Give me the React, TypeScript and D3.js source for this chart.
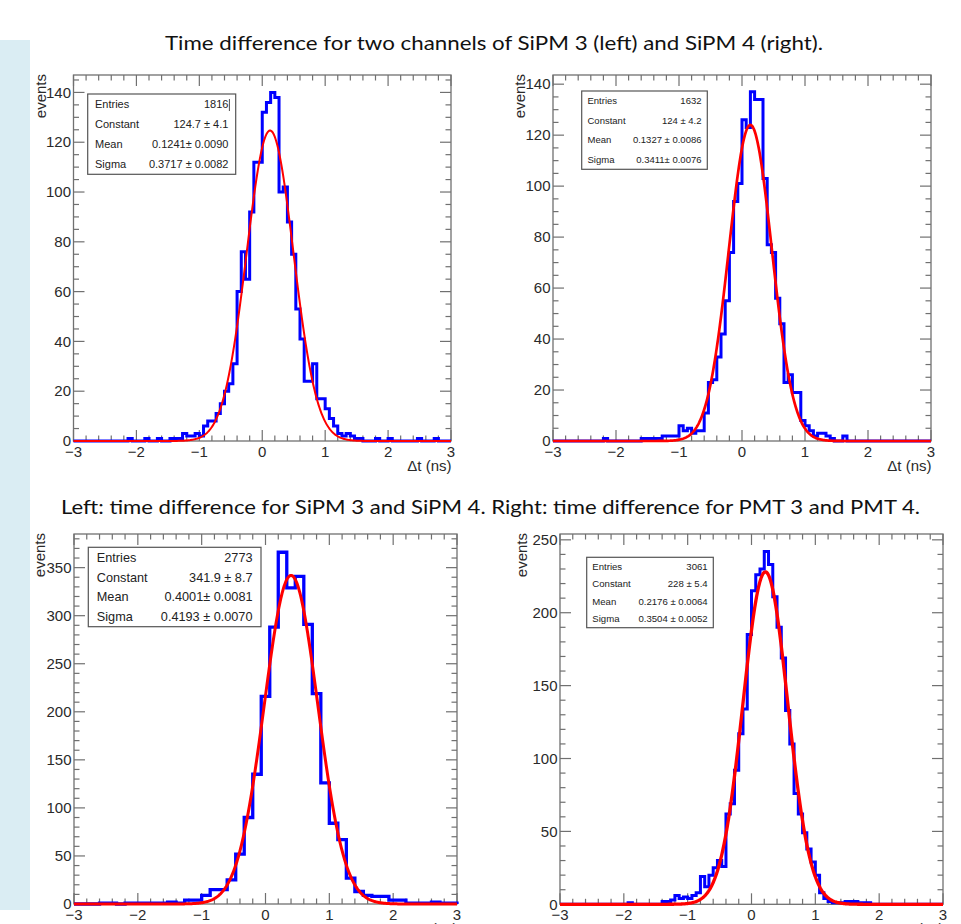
import React from "react";
import * as d3 from "d3";

// bin contents, x range -3..3 ns
const sipm3Counts = [
  0, 0, 0, 0, 0, 0, 0, 0, 0, 0,
  0, 0, 0, 1, 0, 0, 0, 1, 0, 0,
  1, 0, 0, 1, 1, 1, 3, 2, 2, 3,
  2, 6, 8, 8, 11, 15, 20, 23, 31, 60,
  76, 65, 92, 112, 112, 132, 136, 140, 138, 100,
  102, 88, 75, 53, 41, 24, 24, 31, 17, 17,
  13, 9, 6, 3, 2, 3, 2, 1, 1, 0,
  0, 0, 1, 0, 0, 1, 0, 0, 0, 0,
  0, 0, 1, 0, 0, 0, 1, 0, 0, 0,
];
const sipm4Counts = [
  0, 0, 0, 0, 0, 0, 0, 0, 0, 0,
  0, 0, 1, 0, 0, 0, 0, 0, 0, 0,
  0, 1, 1, 1, 1, 1, 2, 2, 2, 2,
  6, 4, 5, 3, 4, 4, 11, 23, 24, 33,
  42, 55, 74, 94, 101, 126, 123, 137, 134, 134,
  103, 77, 74, 56, 46, 23, 26, 19, 19, 8,
  6, 4, 2, 3, 3, 2, 1, 0, 0, 2,
  0, 0, 0, 0, 0, 0, 0, 0, 0, 0,
  0, 0, 0, 0, 0, 0, 0, 0, 0, 0,
];
const sipm34Counts = [
  0, 0, 0, 1, 1, 0, 1, 1, 1, 1,
  1, 2, 1, 4, 4, 9, 15, 15, 25, 52,
  90, 135, 216, 288, 366, 329, 341, 291, 219, 126,
  84, 67, 27, 13, 9, 8, 8, 4, 4, 1,
  1, 1, 2, 1, 1,
];
const pmt34Counts = [
  0, 0, 0, 0, 0, 0, 0, 0, 0, 0,
  0, 0, 0, 0, 0, 0, 1, 0, 0, 0,
  0, 0, 0, 0, 2, 2, 3, 6, 4, 5,
  4, 6, 8, 19, 12, 20, 25, 30, 26, 62,
  69, 92, 117, 134, 185, 215, 226, 230, 242, 233,
  211, 190, 169, 133, 110, 76, 62, 49, 38, 29,
  20, 8, 4, 2, 1, 1, 1, 2, 2, 2,
  1, 1, 1, 0, 0, 0, 0, 0, 0, 0,
  0, 0, 0, 0, 0, 0, 0, 0, 0, 0,
];

const statNames = ["Entries", "Constant", "Mean", "Sigma"];
const sipm3Stats = ["1816", "124.7 ± 4.1", "0.1241± 0.0090", "0.3717 ± 0.0082"];
const sipm4Stats = ["1632", "124 ± 4.2", "0.1327 ± 0.0086", "0.3411± 0.0076"];
const sipm34Stats = ["2773", "341.9 ± 8.7", "0.4001± 0.0081", "0.4193 ± 0.0070"];
const pmt34Stats = ["3061", "228 ± 5.4", "0.2176 ± 0.0064", "0.3504 ± 0.0052"];

// gaus fit: constant, mean, sigma (from the stat boxes)
const sipm3Fit = [124.7, 0.1241, 0.3717];
const sipm4Fit = [124, 0.1327, 0.3411];
const sipm34Fit = [341.9, 0.4001, 0.4193];
const pmt34Fit = [228, 0.2176, 0.3504];

const xTicks = [-3, -2, -1, 0, 1, 2, 3];
const xTickLabels = ["\u22123", "\u22122", "\u22121", "0", "1", "2", "3"];
const sipmYTicks = [0, 20, 40, 60, 80, 100, 120, 140];
const sumYTicks = [0, 50, 100, 150, 200, 250, 300, 350];
const pmtYTicks = [0, 50, 100, 150, 200, 250];

const title1 = "Time difference for two channels of SiPM 3 (left) and SiPM 4 (right).";
const title2 = "Left: time difference for SiPM 3 and SiPM 4. Right: time difference for PMT 3 and PMT 4.";

const panels = [
  { counts: sipm3Counts, stats: sipm3Stats, fit: sipm3Fit, yTicks: sipmYTicks, yMinor: 5,
    left: 73.5, right: 451, top: 75, bottom: 441, yMax: 147, evX: 45.5,
    box: [87.7, 94, 148, 80.3], boxFont: 11, pad: 7.3, histW: 3, fitW: 2, cursor: true },
  { counts: sipm4Counts, stats: sipm4Stats, fit: sipm4Fit, yTicks: sipmYTicks, yMinor: 5,
    left: 553, right: 931, top: 75, bottom: 441, yMax: 143.6, evX: 525,
    box: [581.7, 91, 125.6, 78.3], boxFont: 9.5, pad: 5.8, histW: 3, fitW: 2.7 },
  { counts: sipm34Counts, stats: sipm34Stats, fit: sipm34Fit, yTicks: sumYTicks, yMinor: 10,
    left: 74, right: 457, top: 534, bottom: 904, yMax: 385, evX: 45,
    box: [88.3, 547.3, 172.7, 79.4], boxFont: 12.7, pad: 8.5, histW: 3.3, fitW: 3 },
  { counts: pmt34Counts, stats: pmt34Stats, fit: pmt34Fit, yTicks: pmtYTicks, yMinor: 10,
    left: 560, right: 943, top: 534, bottom: 904.3, yMax: 254, evX: 526.5,
    box: [586.7, 557.3, 126.6, 70.4], boxFont: 9.6, pad: 5.6, histW: 3, fitW: 3.3 },
];

const axisFont = "'Liberation Sans', Arial, sans-serif";
const frameColor = "#707070";
const labelColor = "#2a2a2a";

function Panel({ p }: { p: any }) {
  const x = d3.scaleLinear().domain([-3, 3]).range([p.left, p.right]);
  const y = d3.scaleLinear().domain([0, p.yMax]).range([p.bottom, p.top]);

  const n = p.counts.length;
  const bw = 6 / n;
  const pts: [number, number][] = [[-3, 0]];
  p.counts.forEach((c: number, i: number) => pts.push([-3 + i * bw, c]));
  pts.push([3, p.counts[n - 1]]);
  pts.push([3, 0]);
  const hist = d3.line<[number, number]>()
    .x(d => x(d[0]))
    .y(d => y(d[1]))
    .curve(d3.curveStepAfter)(pts);

  const [amp, mu, sig] = p.fit;
  const fitPath = d3.line<number>()
    .x(t => x(t))
    .y(t => y(amp * Math.exp(-((t - mu) ** 2) / (2 * sig * sig))))(d3.range(-3, 3.0001, 0.01));

  const xMinor = d3.range(-3, 3.0001, 0.2).filter(t => Math.abs(t - Math.round(t)) > 0.01);
  const yMinor = d3.range(0, p.yMax, p.yMinor).filter((v: number) => !p.yTicks.includes(v));
  const maj = 11, mnr = 5.5;

  const [bx, by, bwid, bh] = p.box;

  return (
    <g>
      <rect x={p.left} y={p.top} width={p.right - p.left} height={p.bottom - p.top}
        fill="white" stroke={frameColor} strokeWidth={1.3} />
      {/* ticks on all four sides */}
      <g stroke={frameColor} strokeWidth={1.2}>
        {xTicks.map(t => (
          <g key={"xm" + t}>
            <line x1={x(t)} x2={x(t)} y1={p.bottom} y2={p.bottom - maj} />
            <line x1={x(t)} x2={x(t)} y1={p.top} y2={p.top + maj} />
          </g>
        ))}
        {xMinor.map((t, i) => (
          <g key={"xn" + i}>
            <line x1={x(t)} x2={x(t)} y1={p.bottom} y2={p.bottom - mnr} />
            <line x1={x(t)} x2={x(t)} y1={p.top} y2={p.top + mnr} />
          </g>
        ))}
        {p.yTicks.map((v: number) => (
          <g key={"ym" + v}>
            <line x1={p.left} x2={p.left + maj} y1={y(v)} y2={y(v)} />
            <line x1={p.right} x2={p.right - maj} y1={y(v)} y2={y(v)} />
          </g>
        ))}
        {yMinor.map((v: number) => (
          <g key={"yn" + v}>
            <line x1={p.left} x2={p.left + mnr} y1={y(v)} y2={y(v)} />
            <line x1={p.right} x2={p.right - mnr} y1={y(v)} y2={y(v)} />
          </g>
        ))}
      </g>

      <path d={hist || ""} fill="none" stroke="#0000ff" strokeWidth={p.histW} strokeLinejoin="miter" />
      <path d={fitPath || ""} fill="none" stroke="#ff0000" strokeWidth={p.fitW} />

      <g fontFamily={axisFont} fontSize={15} fill={labelColor}>
        {xTicks.map((t, i) => (
          <text key={"xl" + t} x={x(t)} y={p.bottom + 16} textAnchor="middle">{xTickLabels[i]}</text>
        ))}
        {p.yTicks.map((v: number) => (
          <text key={"yl" + v} x={p.left - 2.5} y={y(v) + 5.2} textAnchor="end">{v}</text>
        ))}
        <text transform={`translate(${p.evX},${p.top - 1}) rotate(-90)`} textAnchor="end">events</text>
        <text x={p.right + 0.5} y={p.bottom + 29.5} textAnchor="end">Δt (ns)</text>
      </g>

      <rect x={bx} y={by} width={bwid} height={bh} fill="white" stroke="#555" strokeWidth={1.2} />
      <g fontFamily={axisFont} fontSize={p.boxFont} fill="#222">
        {statNames.map((name, k) => {
          const cy = by + (bh * (k + 0.5)) / 4 + p.boxFont * 0.36;
          return (
            <g key={name}>
              <text x={bx + p.pad} y={cy}>{name}</text>
              <text x={bx + bwid - p.pad} y={cy} textAnchor="end">{p.stats[k]}</text>
            </g>
          );
        })}
      </g>
      {p.cursor && (
        <line x1={bx + bwid - p.pad + 1} x2={bx + bwid - p.pad + 1} y1={by + 5} y2={by + 17} stroke="#222" strokeWidth={0.8} />
      )}
    </g>
  );
}

export default function App() {
  return (
    <div style={{ position: "absolute", left: 0, top: 0 }}>
      <svg width={961} height={924} style={{ display: "block", background: "white" }}>
        <rect x={0} y={40} width={30} height={870} fill="#daedf3" />
        <text x={494} y={50} textAnchor="middle" fontFamily="Lato, 'Open Sans', sans-serif"
          fontSize={20} fill="#111" textLength={658} lengthAdjust="spacingAndGlyphs">{title1}</text>
        <text x={490.5} y={514} textAnchor="middle" fontFamily="Lato, 'Open Sans', sans-serif"
          fontSize={20} fill="#111" textLength={859} lengthAdjust="spacingAndGlyphs">{title2}</text>
        {panels.map((p, i) => <Panel key={i} p={p} />)}
      </svg>
    </div>
  );
}
